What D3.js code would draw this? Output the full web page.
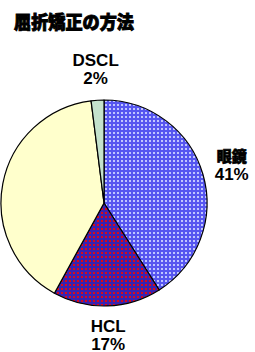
<!DOCTYPE html>
<html>
<head>
<meta charset="utf-8">
<script src="https://cdn.jsdelivr.net/npm/d3@7"></script>
<style>
  body { margin: 0; background: #fff; }
  text { font-family: "Liberation Sans", Arial, sans-serif; font-weight: bold; }
</style>
</head>
<body>
<div id="chart"></div>
<script>
// data (clockwise from 12 o'clock)
let categories = ['眼鏡', 'HCL', '', 'DSCL'];
let values = [41, 17, 40, 2];
let pctLabels = ['41%', '17%', '', '2%'];

let svgWidth = 255;
let svgHeight = 352;
let cx = 104, cy = 203, radius = 103;

let svg = d3.select('#chart')
    .append('svg')
    .attr('width', svgWidth)
    .attr('height', svgHeight);

// fill patterns
let defs = svg.append('defs');

let blue = defs.append('pattern')
    .attr('id', 'pBlue')
    .attr('width', 4).attr('height', 4)
    .attr('patternUnits', 'userSpaceOnUse');
blue.append('rect').attr('width', 4).attr('height', 4).attr('fill', '#5656f0');
blue.append('rect').attr('x', 1).attr('y', 1).attr('width', 2).attr('height', 2).attr('fill', '#c0c6ff');

let red = defs.append('pattern')
    .attr('id', 'pRed')
    .attr('width', 4).attr('height', 4)
    .attr('patternUnits', 'userSpaceOnUse');
red.append('rect').attr('width', 4).attr('height', 4).attr('fill', '#3a22b0');
red.append('rect').attr('x', 1).attr('y', 1).attr('width', 2).attr('height', 2).attr('fill', '#d80a1e');

let fills = ['url(#pBlue)', 'url(#pRed)', '#ffffcc', '#c4e2cc'];

// title (heavy gothic in the original, thickened with a stroke)
svg.append('text')
    .attr('x', 14)
    .attr('y', 29)
    .style('font-family', '"Noto Sans CJK JP", sans-serif')
    .style('font-weight', 900)
    .style('font-size', '18px')
    .attr('stroke', '#000')
    .attr('stroke-width', 0.9)
    .attr('textLength', 120)
    .attr('lengthAdjust', 'spacingAndGlyphs')
    .text('屈折矯正の方法');

let pie = d3.pie().sort(null).value(d => d);
let arcs = pie(values);

let arc = d3.arc().innerRadius(0).outerRadius(radius);

let pieGroup = svg.append('g')
    .attr('transform', `translate(${cx}, ${cy})`);

pieGroup.selectAll('path')
    .data(arcs)
    .enter()
    .append('path')
    .attr('d', arc)
    .attr('fill', (d, i) => fills[i])
    .attr('stroke', '#000')
    .attr('stroke-width', 1.2)
    .attr('stroke-linejoin', 'round');

// outside labels, two lines each
let labelRadius = 133;
let labelGroup = svg.append('g')
    .attr('transform', `translate(${cx}, ${cy - 2})`);

let labels = labelGroup.selectAll('.lbl')
    .data(arcs.filter((d, i) => categories[i] !== ''))
    .enter()
    .append('text')
    .classed('lbl', true)
    .attr('text-anchor', 'middle')
    .style('font-size', '17px')
    .attr('transform', d => {
        let a = (d.startAngle + d.endAngle) / 2;
        return `translate(${labelRadius * Math.sin(a)}, ${-labelRadius * Math.cos(a)})`;
    });

labels.append('tspan')
    .attr('x', 0)
    .attr('y', -2)
    .style('font-family', d => d.index === 0 ? '"Noto Sans CJK JP", sans-serif' : null)
    .style('font-weight', d => d.index === 0 ? 900 : null)
    .style('font-size', d => d.index === 0 ? '15px' : null)
    .attr('stroke', d => d.index === 0 ? '#000' : null)
    .attr('stroke-width', d => d.index === 0 ? 0.7 : null)
    .text(d => categories[d.index]);
labels.append('tspan')
    .attr('x', 0)
    .attr('y', 16)
    .text(d => pctLabels[d.index]);
</script>
</body>
</html>
